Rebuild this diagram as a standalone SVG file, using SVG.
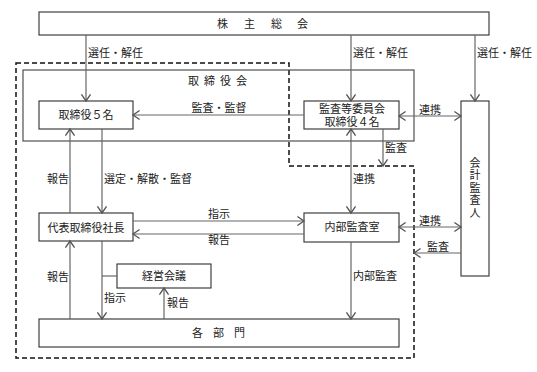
<svg xmlns="http://www.w3.org/2000/svg" width="537" height="372" viewBox="0 0 537 372">
<style>
text{font-family:"Liberation Sans","Noto Sans CJK JP","Noto Sans CJK SC",sans-serif;font-size:11px;fill:#222}
.box{fill:#fff;stroke:#404040;stroke-width:1.2}
.frame{fill:none;stroke:#505050;stroke-width:1.2}
.c{fill:none;stroke:#666;stroke-width:1.2}
.m{text-anchor:middle}
</style>
<defs>
<marker id="ah" markerUnits="userSpaceOnUse" markerWidth="12" markerHeight="12" viewBox="-7 -5 8 10" refX="0" refY="0" orient="auto-start-reverse">
<path d="M-5.5,-3.8 L0,0 L-5.5,3.8" fill="none" stroke="#555" stroke-width="1.1"/>
</marker>
</defs>
<rect width="537" height="372" fill="#fff"/>
<path d="M16,63 H289 V166 H414 V358 H16 Z" fill="none" stroke="#111" stroke-width="1.5" stroke-dasharray="5,3"/>
<g id="board">
<rect class="frame" x="23" y="70" width="391" height="71"/>
<text x="188 204 220 236" y="85">取締役会</text>
</g>
<g id="shareholders">
<rect class="box" x="39" y="12" width="450" height="23"/>
<text x="217 244 271 297" y="28">株主総会</text>
</g>
<g id="directors5">
<rect class="box" x="39" y="101" width="94" height="28"/>
<text class="m" x="86" y="119">取締役５名</text>
</g>
<g id="auditcommittee">
<rect class="box" x="304" y="101" width="95" height="28"/>
<text class="m" x="352" y="113">監査等委員会</text>
<text class="m" x="352" y="126">取締役４名</text>
</g>
<g id="accountingauditor">
<rect class="box" x="461" y="101" width="28" height="175"/>
<text x="474" y="157" writing-mode="vertical-rl" style="writing-mode:vertical-rl;letter-spacing:1.6px">会計監査人</text>
</g>
<g id="president">
<rect class="box" x="39" y="213" width="94" height="28"/>
<text class="m" x="86" y="232">代表取締役社長</text>
</g>
<g id="internalaudit">
<rect class="box" x="304" y="213" width="95" height="29"/>
<text class="m" x="352" y="231">内部監査室</text>
</g>
<g id="mgmtmeeting">
<rect class="box" x="117" y="264" width="94" height="24"/>
<text class="m" x="164" y="280">経営会議</text>
</g>
<g id="departments">
<rect class="box" x="39" y="319" width="360" height="28"/>
<text x="192 213 234" y="337">各部門</text>
</g>
<g id="connectors">
<line class="c" x1="86" y1="35" x2="86" y2="101" marker-end="url(#ah)"/>
<line class="c" x1="351" y1="35" x2="351" y2="101" marker-end="url(#ah)"/>
<line class="c" x1="475" y1="35" x2="475" y2="101" marker-end="url(#ah)"/>
<line class="c" x1="304" y1="115" x2="133" y2="115" marker-end="url(#ah)"/>
<line class="c" x1="399" y1="116" x2="461" y2="116" marker-start="url(#ah)" marker-end="url(#ah)"/>
<line class="c" x1="383" y1="129" x2="383" y2="166" marker-end="url(#ah)"/>
<line class="c" x1="351" y1="129" x2="351" y2="213" marker-start="url(#ah)" marker-end="url(#ah)"/>
<line class="c" x1="70" y1="213" x2="70" y2="129" marker-end="url(#ah)"/>
<line class="c" x1="102" y1="129" x2="102" y2="213" marker-end="url(#ah)"/>
<line class="c" x1="133" y1="221" x2="304" y2="221" marker-end="url(#ah)"/>
<line class="c" x1="304" y1="234" x2="133" y2="234" marker-end="url(#ah)"/>
<line class="c" x1="399" y1="227" x2="461" y2="227" marker-start="url(#ah)" marker-end="url(#ah)"/>
<line class="c" x1="461" y1="253" x2="414" y2="253" marker-end="url(#ah)"/>
<line class="c" x1="351" y1="242" x2="351" y2="319" marker-end="url(#ah)"/>
<line class="c" x1="70" y1="319" x2="70" y2="241" marker-end="url(#ah)"/>
<line class="c" x1="102" y1="241" x2="102" y2="319" marker-end="url(#ah)"/>
<line class="c" x1="102" y1="276" x2="117" y2="276"/>
<line class="c" x1="164" y1="319" x2="164" y2="288" marker-end="url(#ah)"/>
<text x="88" y="57">選任・解任</text>
<text x="353" y="57">選任・解任</text>
<text x="477" y="57">選任・解任</text>
<text class="m" x="219" y="112">監査・監督</text>
<text x="419" y="114">連携</text>
<text x="385" y="152">監査</text>
<text x="353" y="183">連携</text>
<text x="47" y="183">報告</text>
<text x="104" y="183">選定・解散・監督</text>
<text x="208" y="218">指示</text>
<text x="208" y="244">報告</text>
<text x="419" y="225">連携</text>
<text x="427" y="251">監査</text>
<text x="353" y="280">内部監査</text>
<text x="47" y="281">報告</text>
<text x="104" y="302">指示</text>
<text x="167" y="307">報告</text>
</g>
</svg>
